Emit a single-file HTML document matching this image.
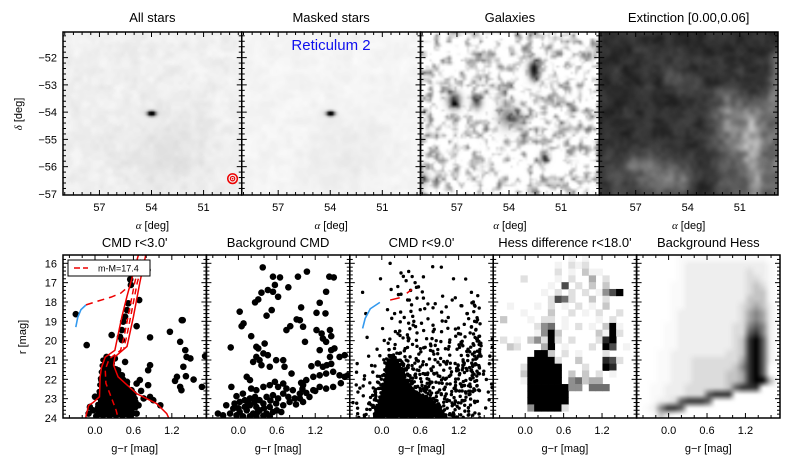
<!DOCTYPE html>
<html><head><meta charset="utf-8"><title>Reticulum 2 diagnostics</title>
<style>
body{margin:0;background:#fff}
#fig{position:relative;width:789px;height:461px;overflow:hidden;font-family:"Liberation Sans",sans-serif}
canvas{position:absolute}
svg{position:absolute;left:0;top:0}
text{font-family:"Liberation Sans",sans-serif;fill:#000}
</style></head>
<body>
<div id="fig">
<svg id="ax" width="789" height="461"></svg>
</div>
<script>
// ---------- data ----------
const topTitles = ["All stars","Masked stars","Galaxies","Extinction [0.00,0.06]"];
const botTitles = ["CMD r<3.0'","Background CMD","CMD r<9.0'","Hess difference r<18.0'","Background Hess"];
const raTicks = [57,54,51];
const decTicks = [-52,-53,-54,-55,-56,-57];
const grTickLabels = [0.0,0.6,1.2];
const magTicks = [16,17,18,19,20,21,22,23,24];
const raDomain = [59.1,48.8];
const decDomain = [-51.06,-57.04];
const grDomain = [-0.5,1.74];
const magDomain = [15.57,24.0];

const satellite = [54.0,-54.05];
const psfMarker = [49.33,-56.44];
const broadStars = [53.2,-55.4];
const galaxyBlobs = [[52.65,-52.45,0.85,0.22],[52.65,-52.75,0.5,0.18],[57.05,-53.6,0.75,0.25],[55.8,-53.66,0.6,0.2],[54.1,-54.15,0.45,0.35],[53.5,-54.2,0.35,0.2],[52.1,-55.6,0.65,0.15],[58.9,-56.3,0.35,0.3]];
const dustFilaments = [[50.5,-54.3,50.2,-57.1,0.35,0.3],[51.8,-54.0,50.8,-55.5,0.5,0.18],[49.0,-52.2,49.2,-53.6,0.3,0.25],[56.9,-55.9,54.2,-56.4,0.35,0.22],[55.0,-52.8,53.5,-52.9,0.25,0.12],[52.0,-55.0,51.3,-57.0,0.7,0.15],[58.0,-56.5,55.0,-56.8,0.7,0.08],[49.5,-55.0,48.8,-56.8,0.6,0.22],[51.5,-53.8,49.0,-54.5,0.6,0.12]];

const cmd1 = [[0.82,16.35],[0.55,16.83],[0.56,17.12],[0.69,17.9],[0.52,18.07],[0.5,18.42],[0.47,18.76],[0.44,19.02],[0.42,19.45],[0.39,19.8],[0.42,19.97],[-0.3,18.63],[0.65,19.25],[0.26,19.71],[-0.13,20.23],[0.86,19.83],[1.355,18.94],[1.37,18.94],[1.17,19.54],[1.33,20.06],[1.41,20.49],[1.43,20.84],[1.49,20.92],[1.72,20.8],[0.47,21.1],[0.86,21.27],[0.83,21.53],[1.38,21.35],[1.42,21.84],[1.28,21.87],[1.25,22.08],[1.33,22.39],[1.35,22.56],[1.54,22.01],[1.67,22.39],[0.7,22.04],[0.65,22.22],[0.83,22.3],[0.86,22.91],[0.76,22.99],[0.91,23.08],[1.02,23.34],[0.68,23.34],[-0.08,23.43],[-0.03,23.6],[-0.1,23.77],
[0.16,21.18],[0.21,21.27],[0.13,21.53],[0.23,21.61],[0.29,21.44],[0.18,21.87],[0.1,22.04],[0.26,22.04],[0.34,21.96],[0.42,21.79],[0.13,22.39],[0.21,22.3],[0.31,22.3],[0.39,22.22],[0.5,22.13],[0.08,22.74],[0.18,22.65],[0.29,22.74],[0.36,22.65],[0.47,22.56],[0.57,22.56],[0.1,23.08],[0.21,23.08],[0.31,23.08],[0.42,22.99],[0.52,22.91],[0.6,22.74],[0.05,23.43],[0.16,23.43],[0.26,23.43],[0.36,23.34],[0.47,23.25],[0.57,23.17],[0.1,23.77],[0.23,23.77],[0.34,23.69],[0.44,23.6],[0.55,23.6],[0.65,23.77],[0.18,20.84],[0.23,21.01],[0.31,20.92],[0.16,21.7],[0.36,21.53],[0.62,23.0],[0.72,22.6],[0.55,23.9],[0.0,22.9],[0.02,23.9]];
const cmd1Dense = [[0.12,21.0],[0.22,20.9],[0.3,21.3],[0.45,22.0],[0.58,22.6],[0.66,23.3],[0.58,23.95],[0.02,23.95],[0.05,23.0],[0.08,22.0]];

const cmdBg = [[0.38,16.21],[0.54,16.69],[0.65,16.73],[0.57,17.12],[0.46,17.38],[0.54,17.47],[0.62,17.73],[0.36,17.52],[0.31,17.87],[0.26,18.02],[0.78,17.24],[0.93,16.69],[1.07,16.43],[1.42,16.69],[1.49,16.73],[1.37,17.47],[1.27,18.04],[0.98,18.28],[1.22,18.56],[1.36,18.59],[0.02,18.5],[0.52,18.42],[0.44,18.71],[0.05,19.25],[0.08,19.11],[0.2,19.77],[-0.12,20.35],[0.91,18.9],[0.96,18.94],[1.01,19.28],[0.81,19.25],[0.75,19.45],[1.04,20.06],[1.22,19.45],[1.3,19.63],[1.32,19.89],[1.43,19.45],[1.45,19.77],[1.37,20.06],[1.27,20.49],[1.45,20.49],[1.5,20.4],[1.43,20.84],[1.58,20.84],[1.66,20.75],[0.28,20.32],[0.31,20.4],[0.41,20.15],[0.28,20.84],[0.33,21.01],[0.39,20.66],[0.23,21.1],[0.36,21.27],[0.46,20.75],[0.59,21.01],[0.7,21.01],[0.72,21.35],[0.49,21.35],[0.83,21.7],[1.14,21.32],[1.24,21.18],[1.32,21.35],[1.38,21.27],[0.13,21.87],[0.18,22.04],[1.27,21.79],[1.37,21.7],[1.48,21.61],[1.58,21.79],[1.66,21.87],[1.71,21.79],[1.17,21.87],[1.06,22.04],[0.98,22.18],[1.01,22.3],[-0.11,22.39],[-0.03,22.87],[0.07,22.74],[0.2,22.48],[0.28,22.56],[0.39,22.39],[0.49,22.3],[0.57,22.13],[0.62,22.39],[0.7,22.22],[0.75,22.48],[0.85,22.56],[0.96,22.74],[1.06,22.7],[1.17,22.56],[1.27,22.39],[1.37,22.48],[1.48,22.39],[-0.19,23.34],[-0.06,23.25],[0.02,23.17],[0.1,23.08],[0.18,22.99],[0.26,22.91],[0.33,23.08],[0.44,22.91],[0.54,22.82],[0.62,22.99],[0.7,22.74],[0.78,22.91],[0.88,22.99],[0.96,22.99],[1.01,23.17],[1.11,22.91],[0.1,23.43],[0.18,23.34],[0.28,23.43],[0.39,23.25],[0.49,23.43],[0.59,23.25],[0.7,23.34],[0.8,23.17],[0.02,23.69],[0.13,23.6],[0.23,23.77],[0.33,23.6],[0.44,23.77],[0.54,23.69],[-0.32,23.77],[-0.24,23.86],[-0.13,23.77],[-0.03,23.86],[0.07,23.91],[0.18,23.91],[0.28,23.91],[0.39,23.88],[0.49,23.91],[0.67,23.69],[-0.08,23.51],[0.0,23.5],[0.15,23.2],[0.3,23.7],[0.4,23.5],[0.5,23.1],[0.6,23.6],[0.25,23.2],[1.2,22.6],[1.45,21.2],[1.6,22.2],[1.0,22.5],[0.9,23.3]];

const cmd9 = [[0.13,16.0],[0.3,16.5],[0.38,16.9],[0.52,17.0],[0.25,17.2],[0.3,17.6],[0.45,17.4],[0.43,17.9],[0.55,17.8],[0.72,18.1],[0.8,18.3],[0.6,18.4],[0.95,17.7],[1.1,17.9],[1.25,18.2],[1.33,18.6],[1.4,17.5],[1.43,18.0],[1.45,19.0],[1.4,19.3],[0.65,16.7],[0.93,16.2],[1.12,16.8],[-0.02,16.8],[-0.3,17.5],[-0.25,18.6],[0.2,18.6],[0.35,18.8],[0.5,19.0],[0.62,19.1],[0.8,19.2],[1.0,19.0],[1.15,19.4],[1.3,19.8],[1.38,19.6],[1.48,19.9],[1.52,20.2],[0.28,19.5],[0.4,19.7],[0.55,19.6],[0.7,19.9],[0.85,20.0],[1.05,20.3],[1.25,20.2],[1.35,20.5],[1.45,20.6],[1.55,20.8]];
const cmd9Counts = [
[0,0,0,0,0,0,0,0,0,0,0,0],
[0,0,0,0,1,0,1,0,0,0,0,0],
[0,0,0,0,1,1,0,0,0,1,0,0],
[0,0,0,1,1,2,1,0,0,0,1,0],
[0,0,0,0,1,1,1,1,1,1,2,0],
[0,0,0,1,1,1,1,1,1,1,3,0],
[0,0,0,1,2,2,1,1,1,2,4,0],
[0,0,1,1,2,2,2,2,2,3,6,0],
[0,1,1,3,4,3,3,2,2,4,8,1],
[0,1,2,8,6,4,4,3,4,6,10,2],
[1,1,3,14,10,7,5,5,5,8,11,2],
[1,2,5,20,14,9,7,6,6,9,11,2],
[1,3,7,25,20,13,9,7,7,9,9,2],
[2,4,10,25,25,17,13,9,8,8,7,2],
[2,5,12,25,25,22,17,11,9,7,5,1],
[3,6,14,25,25,25,21,15,11,7,4,1]];
const cmd9Dense = [[0.10,21.0],[0.19,20.8],[0.29,21.2],[0.36,21.9],[0.49,22.6],[0.70,22.9],[0.91,23.4],[1.02,23.95],[-0.13,23.95],[-0.03,22.9],[0.05,21.9]];

const isoA = [[0.70,15.3],[0.60,16.5],[0.50,17.7],[0.42,18.76],[0.36,19.7],[0.31,20.5],[0.16,20.85],[0.10,21.4],[0.08,21.87],[0.07,22.9],[-0.03,23.2],[-0.10,23.35],[-0.14,23.9],[-0.15,24.2]];
const isoB = [[0.81,15.3],[0.70,17.0],[0.60,18.76],[0.50,20.3],[0.31,20.84],[0.29,21.27],[0.36,21.87],[0.65,22.74],[0.96,23.25],[1.12,23.77],[1.18,24.2]];
const isoMid = [[0.76,15.3],[0.62,17],[0.52,18.7],[0.46,19.7],[0.40,20.5],[0.22,20.95],[0.16,21.5],[0.17,22.2],[0.25,22.9],[0.33,23.6],[0.36,24.0]];
const isoMid2 = [[0.80,15.3],[0.66,17],[0.56,18.7],[0.50,19.7],[0.45,20.4]];
const hbBlue1 = [[-0.30,19.3],[-0.27,18.8],[-0.22,18.4],[-0.14,18.15]];
const hbRed1 = [[-0.14,18.15],[0.05,17.95],[0.25,17.75],[0.40,17.55],[0.47,17.35]];
const hbBlue3 = [[-0.30,19.37],[-0.26,18.85],[-0.18,18.35],[-0.03,18.02]];
const hbRed3a = [[0.13,17.9],[0.28,17.78]];
const hbRed3b = [[0.39,17.55],[0.47,17.35]];

const hessDiff = [
"000000000001010000000",
"000000000102120000000",
"000000000201031100000",
"000020000102004020000",
"000000001070203030000",
"000000010202020157900",
"000000002762003020000",
"001000102010201030000",
"000010003002010200200",
"030001022010000102000",
"000000256010201039100",
"000000159300000319200",
"020103529202000289000",
"003200049010002097010",
"000000993020100020000",
"000009999200300087200",
"000029999900020098000",
"000039999903030201000",
"000019999905634400000",
"000009999995506660000",
"000009999990000000000",
"000009999990000000000",
"000005999920000000000",
"000000000000000000000"];
const hessBg = [
"000000111111111111100",
"000000122222222222210",
"000000122222222232210",
"000000122222222233210",
"000001122222222234310",
"000001122222222234410",
"000001122222222244410",
"000001122222222345420",
"000001222222222356520",
"000001222222222356520",
"000011222222223367620",
"000011222222223378620",
"000011222222223489720",
"000011222222223489720",
"000112222222233489720",
"000112223333333589720",
"000112223333334689700",
"000112223333344589700",
"000112223333344589950",
"001122233333347888000",
"001122233378880000000",
"001223788870000000000",
"012688700000000000000",
"001420000000000000000"];

// ---------- helpers ----------
const NS='http://www.w3.org/2000/svg';
const svg=document.getElementById('ax');
const fig=document.getElementById('fig');
function mk(tag,attrs,parent){const e=document.createElementNS(NS,tag);for(const k in attrs)e.setAttribute(k,attrs[k]);(parent||svg).appendChild(e);return e;}
function lin(d0,d1,r0,r1){return v=>r0+(v-d0)*(r1-r0)/(d1-d0);}
function fmt(v){return (v<0?'\u2212':'')+Math.abs(v);}
function fmt1(v){return (v<0?'\u2212':'')+Math.abs(v).toFixed(1);}

const TY0=32,TY1=195,TW=178.75,TX0=63;
const BY0=255,BY1=418,BW=143.4,BX0=63;

// ---------- noise ----------
function hash(i,j,s){let h=Math.sin(i*127.1+j*311.7+s*74.7)*43758.5453;return h-Math.floor(h);}
function vnoise(x,y,s){const i=Math.floor(x),j=Math.floor(y);let fx=x-i,fy=y-j;fx=fx*fx*(3-2*fx);fy=fy*fy*(3-2*fy);
 const a=hash(i,j,s),b=hash(i+1,j,s),c=hash(i,j+1,s),d=hash(i+1,j+1,s);return a+(b-a)*fx+(c-a)*fy+(a-b-c+d)*fx*fy;}
function g2(a,d,a0,d0,sa,sd){return Math.exp(-((a-a0)*(a-a0)/(2*sa*sa)+(d-d0)*(d-d0)/(2*sd*sd)));}
function segDist(a,d,f){const ax=f[0],ay=f[1],bx=f[2],by=f[3];const dx=bx-ax,dy=by-ay;let t=((a-ax)*dx+(d-ay)*dy)/(dx*dx+dy*dy);t=Math.max(0,Math.min(1,t));const px=ax+t*dx-a,py=ay+t*dy-d;return Math.sqrt(px*px+py*py);}
const clamp=v=>Math.max(0,Math.min(1,v));

function renderMap(k,fn,name,blur){
 const W=90,H=82;const sm=document.createElement('canvas');sm.width=W;sm.height=H;const sc=sm.getContext('2d');
 const img=sc.createImageData(W,H);
 for(let y=0;y<H;y++)for(let x=0;x<W;x++){
  const a=raDomain[0]+(x+0.5)/W*(raDomain[1]-raDomain[0]);
  const d=decDomain[0]+(y+0.5)/H*(decDomain[1]-decDomain[0]);
  const g=fn(a,d,x,y);const o=(y*W+x)*4;img.data[o]=img.data[o+1]=img.data[o+2]=g;img.data[o+3]=255;}
 sc.putImageData(img,0,0);
 const c=document.createElement('canvas');
 
 
 const w=Math.round(TW),h=TY1-TY0;c.width=w;c.height=h;
 c.style.left=(TX0+k*TW)+'px';c.style.top=TY0+'px';
 const cx=c.getContext('2d');cx.imageSmoothingEnabled=true;if(blur)cx.filter='blur('+blur+'px)';cx.drawImage(sm,-4,-4,w+8,h+8);
 fig.insertBefore(c,svg);
}
renderMap(0,(a,d,x,y)=>{let v=0.02+0.05*vnoise(x/4,y/4,1)+0.03*vnoise(x/2,y/2,2)+0.05*g2(a,d,broadStars[0],broadStars[1],1.6,1.0)+1.3*g2(a,d,satellite[0],satellite[1],0.16,0.06);return 255*(1-clamp(v));},'all-stars-map',0);
renderMap(1,(a,d,x,y)=>{let v=0.01+0.035*vnoise(x/4,y/4,3)+0.02*vnoise(x/2,y/2,4)+0.04*g2(a,d,broadStars[0],broadStars[1],1.6,1.0)+1.3*g2(a,d,satellite[0],satellite[1],0.16,0.06);return 255*(1-clamp(v));},'masked-stars-map',0);
renderMap(2,(a,d,x,y)=>{const t=0.6*vnoise(x/3,y/3,5)+0.4*vnoise(x/1.5,y/1.5,6);let v=Math.max(0,t-0.44)*1.1;for(const b of galaxyBlobs)v+=b[2]*g2(a,d,b[0],b[1],b[3],b[3]*0.8);return 255*(1-clamp(v));},'galaxies-map',0.6);
renderMap(3,(a,d,x,y)=>{let v=0.1+0.12*vnoise(x/5,y/5,9)+0.07*vnoise(x/2,y/2,10);for(const f of dustFilaments){const s=segDist(a,d,f);v+=f[5]*Math.exp(-s*s/(2*f[4]*f[4]))*(0.7+0.6*vnoise(x/3,y/3,11));}return 255*clamp(v);},'extinction-map',1);

// ---------- top axes ----------
const xRA=k=>lin(raDomain[0],raDomain[1],TX0+k*TW,TX0+(k+1)*TW);
const yDec=lin(decDomain[0],decDomain[1],TY0,TY1);
for(let k=0;k<4;k++){
 const x0=TX0+k*TW,x1=x0+TW,sx=xRA(k);
 const g=mk('g',{});
 
 
 for(let a=49;a<=59;a+=0.5){const px=sx(a);if(px<x0+1||px>x1-1)continue;const L=(a%3==0)?5:3;
  mk('line',{x1:px,x2:px,y1:TY1,y2:TY1-L,stroke:'#000','stroke-width':1},g);mk('line',{x1:px,x2:px,y1:TY0,y2:TY0+L,stroke:'#000','stroke-width':1},g);}
 for(let d=-51.2;d>=-57;d-=0.2){const dd=Math.round(d*10)/10;const py=yDec(dd);if(py<TY0+1||py>TY1-1)continue;const L=(Math.abs(dd%1)<0.01)?5:3;
  mk('line',{x1:x0,x2:x0+L,y1:py,y2:py,stroke:'#000','stroke-width':1},g);mk('line',{x1:x1,x2:x1-L,y1:py,y2:py,stroke:'#000','stroke-width':1},g);}
 const fr=mk('rect',{x:x0,y:TY0,width:TW,height:TY1-TY0,fill:'none',stroke:'#000','stroke-width':1.5},g);
 
 
 const t=mk('text',{x:(x0+x1)/2,y:22,'text-anchor':'middle','font-size':13},g);t.textContent=topTitles[k];
 
 
 for(const a of raTicks){const tl=mk('text',{x:sx(a),y:211,'text-anchor':'middle','font-size':11},g);tl.textContent=a;
  
  }
 const xl=mk('text',{x:(x0+x1)/2,y:229,'text-anchor':'middle','font-size':11},g);
 xl.innerHTML='<tspan font-family="Liberation Serif" font-style="italic">α</tspan> [deg]';
 
 
}
for(const d of decTicks){const tl=mk('text',{x:57,y:yDec(d)+4,'text-anchor':'end','font-size':11});tl.textContent=fmt(d);
 
 }
const dl=mk('text',{x:0,y:0,'text-anchor':'middle','font-size':11,transform:'translate(22,114) rotate(-90)'});
dl.innerHTML='<tspan font-family="Liberation Serif" font-style="italic">δ</tspan> [deg]';


const ret=mk('text',{x:331,y:50,'text-anchor':'middle','font-size':15,style:'fill:#1010ee'});ret.textContent='Reticulum 2';


const mx=xRA(0)(psfMarker[0]),my=yDec(psfMarker[1]);
const mg=mk('g',{});


mk('circle',{cx:mx,cy:my,r:4.8,fill:'none',stroke:'#e00','stroke-width':1.5},mg);
mk('circle',{cx:mx,cy:my,r:2.2,fill:'none',stroke:'#e00','stroke-width':1.2},mg);
mk('circle',{cx:mx,cy:my,r:0.8,fill:'#e00'},mg);

// ---------- bottom panels ----------
const xGR=k=>lin(grDomain[0],grDomain[1],BX0+k*BW,BX0+(k+1)*BW);
const yMag=lin(magDomain[0],magDomain[1],BY0,BY1);
const defs=mk('defs',{});
for(let k=0;k<5;k++){const cp=mk('clipPath',{id:'cp'+k},defs);mk('rect',{x:BX0+k*BW,y:BY0,width:BW,height:BY1-BY0},cp);}

function pline(k,pts,color,w,dash,name){const sx=xGR(k);const p=mk('polyline',{points:pts.map(q=>sx(q[0])+','+yMag(q[1])).join(' '),fill:'none',stroke:color,'stroke-width':w,'clip-path':'url(#cp'+k+')'});
 if(dash)p.setAttribute('stroke-dasharray',dash);
 
 }
function dots(k,pts,r,name){const sx=xGR(k);const g=mk('g',{'clip-path':'url(#cp'+k+')'});
 
 
 for(const q of pts){mk('circle',{cx:sx(q[0]),cy:yMag(q[1]),r:r,fill:'#000'},g);}}
function densePoly(k,pts,w,name){const sx=xGR(k);const p=mk('polygon',{points:pts.map(q=>sx(q[0])+','+yMag(q[1])).join(' '),fill:'#000',stroke:'#000','stroke-width':w,'stroke-linecap':'round','stroke-dasharray':'0 '+(w*1.3),'clip-path':'url(#cp'+k+')'});
 
 }
function grayOf(v,p){return Math.round(255*(1-Math.pow(v/9,p||1.4)));}

// Hess difference grid
(function(){const k=3,x0=BX0+k*BW;const nr=hessDiff.length,nc=hessDiff[0].length;const cw=BW/nc,ch=(BY1-BY0)/nr;
 const g=mk('g',{});
 
 
 for(let r=0;r<nr;r++)for(let c=0;c<nc;c++){const v=+hessDiff[r][c];if(!v)continue;const gv=grayOf(v);
  mk('rect',{x:x0+c*cw,y:BY0+r*ch,width:cw+0.4,height:ch+0.4,fill:'rgb('+gv+','+gv+','+gv+')'},g);}})();
// Background Hess (smoothed)
(function(){const k=4;const nr=hessBg.length,nc=hessBg[0].length;const sm=document.createElement('canvas');sm.width=nc;sm.height=nr;const sc=sm.getContext('2d');const im=sc.createImageData(nc,nr);
 for(let r=0;r<nr;r++)for(let c=0;c<nc;c++){const v=+hessBg[r][c];const gv=grayOf(v,1.8);const o=(r*nc+c)*4;im.data[o]=im.data[o+1]=im.data[o+2]=gv;im.data[o+3]=255;}
 sc.putImageData(im,0,0);const cv=document.createElement('canvas');
 
 
 const w=Math.round(BW),h=BY1-BY0;cv.width=w;cv.height=h;cv.style.left=(BX0+k*BW)+'px';cv.style.top=BY0+'px';
 const cx=cv.getContext('2d');cx.imageSmoothingEnabled=true;cx.filter='blur(1px)';cx.drawImage(sm,0,0,w,h);fig.insertBefore(cv,svg);})();

// CMD panel 1
densePoly(0,cmd1Dense,5,'cmd-inner-dense-core');
dots(0,cmd1,3.3,'cmd-inner-stars');
pline(0,isoA,'#e00',1.5,null,'isochrone-left');
pline(0,isoB,'#e00',1.5,null,'isochrone-right');
pline(0,isoMid,'#e00',1.5,'6,4','isochrone-dashed');
pline(0,isoMid2,'#e00',1.5,'6,4','isochrone-dashed-2');
pline(0,hbBlue1,'#3399ee',1.6,null,'horizontal-branch-blue');
pline(0,hbRed1,'#e00',1.5,'7,5','horizontal-branch-red');
// CMD panel 2
dots(1,cmdBg,3.3,'background-cmd-stars');
// CMD panel 3
densePoly(2,cmd9Dense,3.4,'cmd-dense-region');
(function(){const nr=cmd9Counts.length,nc=cmd9Counts[0].length;const dg=(grDomain[1]-grDomain[0])/nc,dm=(magDomain[1]-magDomain[0])/nr;const pts=[];
 for(let r=0;r<nr;r++)for(let c=0;c<nc;c++){const n=cmd9Counts[r][c];for(let i=0;i<n;i++){pts.push([grDomain[0]+(c+hash(c,r*31+i,21))*dg,magDomain[0]+(r+hash(c*7+i,r,22))*dm]);}}
 dots(2,pts,1.7,'cmd-9arcmin-binned-stars');})();
dots(2,cmd9,1.7,'cmd-9arcmin-stars');
pline(2,hbBlue3,'#3399ee',1.6,null,'horizontal-branch-blue');
pline(2,hbRed3a,'#e00',1.5,null,'horizontal-branch-red-a');
pline(2,hbRed3b,'#e00',1.5,null,'horizontal-branch-red-b');

for(let k=0;k<5;k++){
 const x0=BX0+k*BW,x1=x0+BW,sx=xGR(k);
 const g=mk('g',{});
 
 
 for(let i=-2;i<=8;i++){const v=i*0.2;const px=sx(v);if(px<x0+1||px>x1-1)continue;const L=(i%3==0)?5:3;
  mk('line',{x1:px,x2:px,y1:BY1,y2:BY1-L,stroke:'#000'},g);mk('line',{x1:px,x2:px,y1:BY0,y2:BY0+L,stroke:'#000'},g);}
 for(let i=78;i<=120;i++){const m=i*0.2;const py=yMag(m);if(py<BY0+1||py>BY1-1)continue;const L=(i%5==0)?5:3;
  mk('line',{x1:x0,x2:x0+L,y1:py,y2:py,stroke:'#000'},g);mk('line',{x1:x1,x2:x1-L,y1:py,y2:py,stroke:'#000'},g);}
 const fr=mk('rect',{x:x0,y:BY0,width:BW,height:BY1-BY0,fill:'none',stroke:'#000','stroke-width':1.5},g);
 
 
 const t=mk('text',{x:(x0+x1)/2,y:247,'text-anchor':'middle','font-size':13},g);t.textContent=botTitles[k];
 
 
 for(const v of grTickLabels){const tl=mk('text',{x:sx(v),y:434,'text-anchor':'middle','font-size':11},g);tl.textContent=fmt1(v);
  
  }
 const xl=mk('text',{x:(x0+x1)/2,y:452,'text-anchor':'middle','font-size':11},g);xl.textContent='g\u2212r [mag]';
 
 
}
for(const m of magTicks){const tl=mk('text',{x:57,y:yMag(m)+4,'text-anchor':'end','font-size':11});tl.textContent=m;
 
 }
const rl=mk('text',{x:0,y:0,'text-anchor':'middle','font-size':11,transform:'translate(26,337) rotate(-90)'});rl.textContent='r [mag]';


// legend
const lg=mk('g',{});


mk('rect',{x:68,y:260,width:82,height:16,fill:'#fff',stroke:'#000','stroke-width':1},lg);
mk('line',{x1:74,x2:88,y1:268,y2:268,stroke:'#e00','stroke-width':1.5,'stroke-dasharray':'6,3'},lg);
const lt=mk('text',{x:98,y:271.5,'font-size':9},lg);lt.textContent='m-M=17.4';


</script>
</body></html>
